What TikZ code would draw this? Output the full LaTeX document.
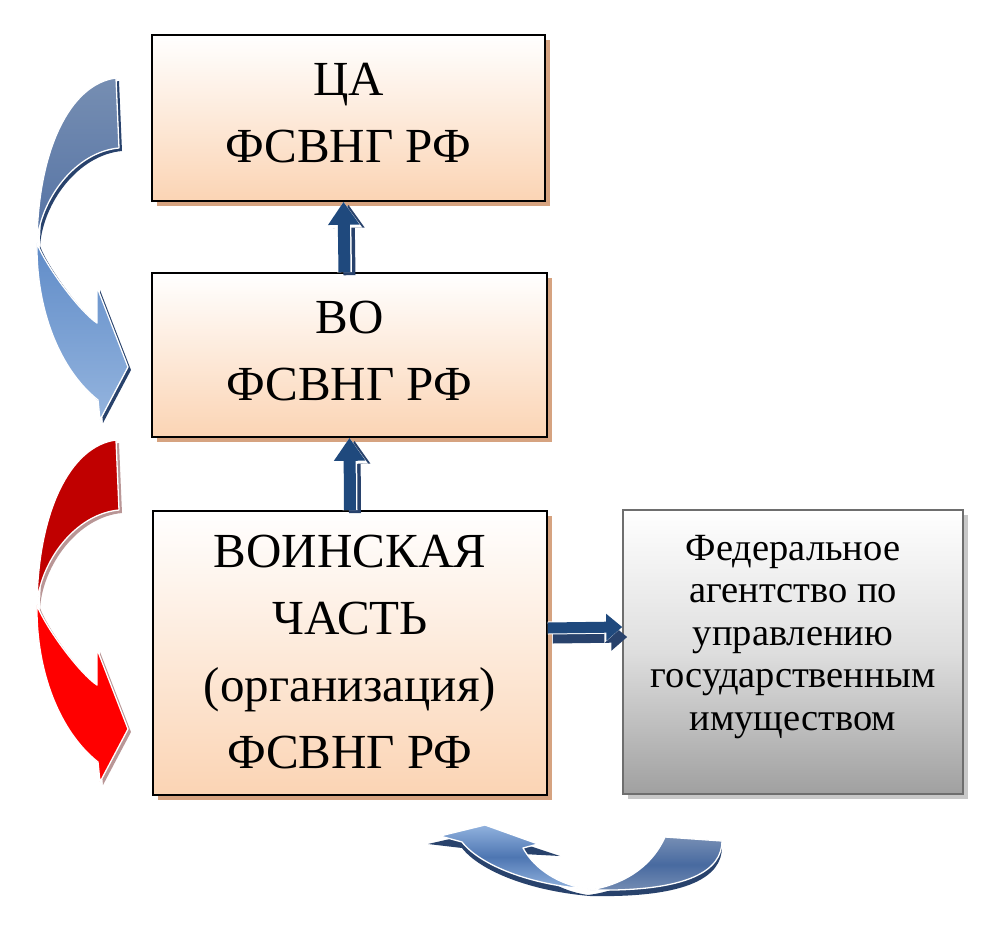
\documentclass[tikz,border=0pt]{standalone}
\usepackage{fontspec}
\setmainfont{Liberation Serif}
\usetikzlibrary{arrows.meta,shadows,calc}
\definecolor{peach}{RGB}{251,212,180}
\definecolor{tanshadow}{RGB}{214,163,128}
\definecolor{greyfill}{RGB}{160,160,160}
\definecolor{greyline}{RGB}{110,110,110}
\definecolor{greyshadow}{RGB}{200,200,200}
\definecolor{navy}{RGB}{31,73,125}
\definecolor{navyshadow}{RGB}{40,66,108}
\definecolor{bUtop}{RGB}{118,142,178}
\definecolor{bUbot}{RGB}{84,114,164}
\definecolor{bLtop}{RGB}{96,140,200}
\definecolor{bLbot}{RGB}{148,180,222}
\definecolor{rUp}{RGB}{192,0,0}
\definecolor{rLo}{RGB}{255,0,0}
\definecolor{rShadow}{RGB}{185,150,150}
\definecolor{cRight}{RGB}{72,106,160}
\definecolor{cRightEdge}{RGB}{118,142,180}
\definecolor{cLeft}{RGB}{78,118,178}
\definecolor{cLeftEdge}{RGB}{145,178,222}
\tikzset{
  obox/.style={draw=black, line width=1.6pt, top color=white, bottom color=peach,
    inner sep=0pt,
    drop shadow={shadow xshift=5pt, shadow yshift=-5pt, fill=tanshadow, opacity=1}},
  otext/.style={inner sep=0pt, align=center, font=\fontsize{49}{67}\selectfont},
  gbox/.style={draw=greyline, line width=1.6pt, top color=white, bottom color=greyfill,
    middle color={rgb,255:red,222;green,222;blue,222},
    inner sep=0pt,
    drop shadow={shadow xshift=5pt, shadow yshift=-5pt, fill=greyshadow, opacity=1}},
  gtext/.style={inner sep=0pt, align=center, font=\fontsize{38.5}{42.5}\selectfont},
  blockshadow/.style={draw=navyshadow, line width=12pt,
    -{Triangle[width=30pt,length=23pt]},
    transform canvas={xshift=5pt,yshift=-3pt}},
  blockwhite/.style={draw=white, line width=15pt,
    -{Triangle[width=35pt,length=26pt]}},
  blockmain/.style={draw=navy, line width=12pt,
    -{Triangle[width=30pt,length=23pt]}},
  curvedge/.style={draw=white, line width=1.3pt, line join=round},
}
\begin{document}
\begin{tikzpicture}[x=1pt,y=-1pt]
\useasboundingbox (0,0) rectangle (1004,926);

% boxes
\node[obox, minimum width=393pt, minimum height=166pt] (b1) at (348.5,118) {};
\node[otext] (b1t) at ([yshift=5pt]b1.center) {ЦА\\ФСВНГ РФ};
\node[obox, minimum width=395pt, minimum height=164pt] (b2) at (349.5,355) {};
\node[otext] (b2t) at ([yshift=4pt]b2.center) {ВО\\ФСВНГ РФ};
\node[obox, minimum width=394pt, minimum height=284pt] (b3) at (350,653) {};
\node[otext] (b3t) at ([yshift=1pt]b3.center) {ВОИНСКАЯ\\ЧАСТЬ\\(организация)\\ФСВНГ РФ};
\node[gbox, minimum width=340pt, minimum height=284pt] (g) at (793,652) {};
\node[gtext] (gt) at ([yshift=15pt]g.center) {Федеральное\\агентство по\\управлению\\государственным\\имуществом};

% block arrows between boxes
\draw[blockshadow] ([xshift=-5pt]b2.north) -- ([xshift=-5pt]b1.south);
\draw[blockwhite] ([xshift=-5pt]b2.north) -- ([xshift=-5pt]b1.south);
\draw[blockmain] ([xshift=-5pt]b2.north) -- ([xshift=-5pt]b1.south);

\draw[blockshadow] (b3.north) -- (b2.south);
\draw[blockwhite] (b3.north) -- (b2.south);
\draw[blockmain] (b3.north) -- (b2.south);

\draw[blockshadow, line width=11pt, -{Triangle[width=26pt,length=16pt]}, transform canvas={xshift=0pt,yshift=-7pt}]
  ([yshift=25pt]b3.east) -- ([yshift=25pt]g.west);
\draw[blockwhite, line width=13pt, -{Triangle[width=30pt,length=18pt]}]
  ([yshift=25pt]b3.east) -- ([yshift=25pt]g.west);
\draw[blockmain, line width=11pt, -{Triangle[width=26pt,length=16pt]}]
  ([yshift=25pt]b3.east) -- ([yshift=25pt]g.west);

% blue curved arrow (left, top)
\begin{scope}[shift={(3,3)}]
  \fill[navyshadow]
    (116,78) .. controls (70,84) and (38,150) .. (37,243)
    .. controls (36,310) and (60,370) .. (98,400) -- (100,420) -- (128,367) -- (97,287) -- (97,323)
    .. controls (80,312) and (45,265) .. (37,243)
    .. controls (40,200) and (75,152) .. (119,148) -- cycle;
\end{scope}
\path[curvedge, top color=bUtop, bottom color=bUbot]
  (116,78) .. controls (70,84) and (38,150) .. (37,243)
  .. controls (40,200) and (75,152) .. (119,148) -- cycle;
\path[curvedge, top color=bLtop, bottom color=bLbot]
  (37,243) .. controls (36,310) and (60,370) .. (98,400) -- (100,420) -- (128,367) -- (97,287) -- (97,323)
  .. controls (80,312) and (45,265) .. (37,243) -- cycle;

% red curved arrow (left, bottom)
\begin{scope}[shift={(0,362)}]
\begin{scope}[shift={(3,3)}]
  \fill[rShadow]
    (116,78) .. controls (70,84) and (38,150) .. (37,243)
    .. controls (36,310) and (60,370) .. (98,400) -- (100,420) -- (128,367) -- (97,287) -- (97,323)
    .. controls (80,312) and (45,265) .. (37,243)
    .. controls (40,200) and (75,152) .. (119,148) -- cycle;
\end{scope}
\path[curvedge, fill=rUp]
  (116,78) .. controls (70,84) and (38,150) .. (37,243)
  .. controls (40,200) and (75,152) .. (119,148) -- cycle;
\path[curvedge, fill=rLo]
  (37,243) .. controls (36,310) and (60,370) .. (98,400) -- (100,420) -- (128,367) -- (97,287) -- (97,323)
  .. controls (80,312) and (45,265) .. (37,243) -- cycle;
\end{scope}

% bottom U-turn arrow
\begin{scope}[shift={(0,6)}]
  \fill[navyshadow]
    (665,837) -- (722,841) .. controls (722,870) and (690,892) .. (590,890)
    .. controls (530,885) and (480,865) .. (462,842) -- (428,838) -- (485,825) -- (560,850) -- (523,848)
    .. controls (535,870) and (560,885) .. (588,889)
    .. controls (620,885) and (650,870) .. (665,837) -- cycle;
\end{scope}
\path[curvedge, top color=cRightEdge, bottom color=cRightEdge, middle color=cRight]
  (665,837) -- (722,841) .. controls (722,870) and (690,892) .. (590,890)
  .. controls (620,885) and (650,870) .. (665,837) -- cycle;
\path[curvedge, top color=cLeftEdge, bottom color=cLeftEdge, middle color=cLeft]
  (588,889) .. controls (530,885) and (480,865) .. (462,842) -- (440,836) -- (485,825) -- (538,844) -- (523,848)
  .. controls (535,870) and (560,885) .. (588,889) -- cycle;
\end{tikzpicture}
\end{document}
